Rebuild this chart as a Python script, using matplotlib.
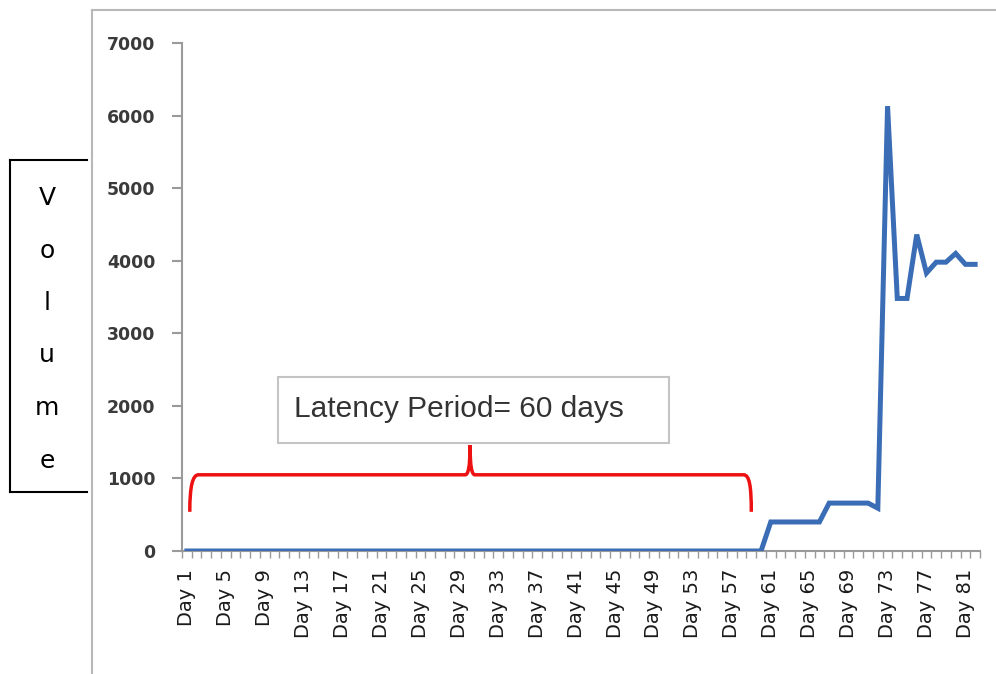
import matplotlib

matplotlib.use('Agg')
import matplotlib.pyplot as plt
from matplotlib.path import Path
from matplotlib.patches import PathPatch, Rectangle
from matplotlib.lines import Line2D

# values
days = list(range(1, 83))
volume = [0] * 60 + [400, 400, 400, 400, 400, 400,
                     660, 660, 660, 660, 660, 590,
                     6130, 3480, 3480, 4360, 3830, 3980, 3980, 4100, 3950, 3950]
label_days = list(range(1, 82, 4))
tick_labels = [f'Day {d}' for d in label_days]
y_ticks = [0, 1000, 2000, 3000, 4000, 5000, 6000, 7000]
annotation = 'Latency Period= 60 days'
axis_title = 'Volume'

W, H = 996, 674
fig = plt.figure(figsize=(W / 100, H / 100), dpi=100)
fig.patch.set_facecolor('white')

# outer chart frame (runs off the right and bottom edges)
fig.add_artist(Line2D([92 / W, 92 / W], [0, 1 - 10 / H], color='#b8b8b8', lw=1.5))
fig.add_artist(Line2D([92 / W, 1], [1 - 10 / H, 1 - 10 / H], color='#b8b8b8', lw=1.5))

ax = fig.add_axes([182 / W, 1 - 551 / H, 798 / W, 508 / H])
ax.plot(days, volume, color='#3a6db5', lw=3.6, solid_joinstyle='miter', zorder=3)
ax.set_xlim(0.5, 82.5)
ax.set_ylim(0, 7000)

for side in ('top', 'right'):
    ax.spines[side].set_visible(False)
for side in ('left', 'bottom'):
    ax.spines[side].set_color('#9a9a9a')
    ax.spines[side].set_linewidth(1.5)

ax.set_yticks(y_ticks)
ax.set_yticklabels([str(v) for v in y_ticks])
ax.tick_params(axis='y', length=7, width=1.5, color='#9a9a9a', pad=12,
               labelsize=12.5, labelcolor='#3a3a3a')
for lbl in ax.get_yticklabels():
    lbl.set_fontweight('semibold')

ax.set_xticks(label_days)
ax.set_xticklabels(tick_labels, rotation=90, fontsize=14, color='#1a1a1a')
ax.tick_params(axis='x', which='major', length=0, pad=13)
ax.set_xticks([d + 0.5 for d in range(0, 83)], minor=True)
ax.tick_params(axis='x', which='minor', length=5, width=1, color='#9a9a9a')

# red curly brace over the latency period
verts = [(1.3, 540), (1.3, 900), (1.6, 1050), (2.2, 1050),
         (29.6, 1050),
         (29.9, 1050), (30.1, 1150), (30.1, 1460),
         (30.1, 1150), (30.3, 1050), (30.6, 1050),
         (58.2, 1050),
         (58.8, 1050), (59.0, 900), (59.0, 540)]
codes = [Path.MOVETO, Path.CURVE4, Path.CURVE4, Path.CURVE4,
         Path.LINETO,
         Path.CURVE4, Path.CURVE4, Path.CURVE4,
         Path.CURVE4, Path.CURVE4, Path.CURVE4,
         Path.LINETO,
         Path.CURVE4, Path.CURVE4, Path.CURVE4]
ax.add_patch(PathPatch(Path(verts, codes), facecolor='none', edgecolor='#ee1111',
                       lw=2.5, zorder=4, clip_on=False))

# annotation box
ax.add_patch(Rectangle((10.4, 1490), 40.1, 905, facecolor='white',
                       edgecolor='#c4c4c4', lw=1.5, zorder=5))
ax.text(12.0, 1960, annotation, fontsize=21.5, family='Liberation Sans',
        color='#333333', ha='left', va='center', zorder=6)

# "Volume" label box, letters stacked vertically
fig.add_artist(Line2D([10 / W, 10 / W], [1 - 160 / H, 1 - 492 / H], color='black', lw=1.5))
fig.add_artist(Line2D([10 / W, 87 / W], [1 - 160 / H, 1 - 160 / H], color='black', lw=1.5))
fig.add_artist(Line2D([10 / W, 87 / W], [1 - 492 / H, 1 - 492 / H], color='black', lw=1.5))
for i, ch in enumerate(axis_title):
    fig.text(47 / W, 1 - (198 + i * 52.5) / H, ch, fontsize=18,
             family='DejaVu Sans', ha='center', va='center')

fig.savefig('out.png', dpi=100)
plt.close(fig)
